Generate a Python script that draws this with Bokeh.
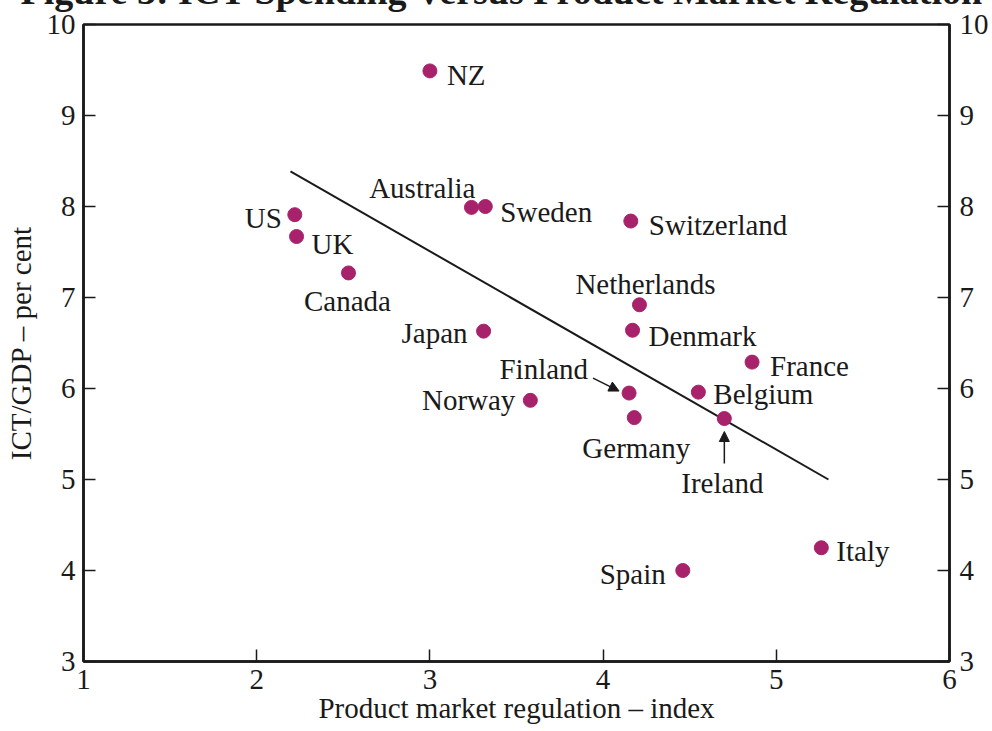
import math
from bokeh.plotting import figure
from bokeh.models import Range1d, FixedTicker, LinearAxis, Arrow, NormalHead, ColumnDataSource
from bokeh.core.properties import value
from bokeh.embed import file_html
from bokeh.resources import INLINE

# ---- data ----
countries = ["NZ", "Australia", "Sweden", "US", "UK", "Canada", "Switzerland",
             "Netherlands", "Denmark", "Japan", "France", "Finland", "Belgium",
             "Norway", "Germany", "Ireland", "Italy", "Spain"]
pmr_index = [3.00, 3.24, 3.32, 2.22, 2.23, 2.53, 4.16,
             4.21, 4.17, 3.31, 4.86, 4.15, 4.55,
             3.58, 4.18, 4.70, 5.26, 4.46]
ict_gdp = [9.49, 7.99, 8.00, 7.91, 7.67, 7.27, 7.84,
           6.92, 6.64, 6.63, 6.29, 5.95, 5.96,
           5.87, 5.68, 5.67, 4.25, 4.00]
trend_x = [2.195, 5.301]
trend_y = [8.385, 5.00]
x_ticks = [1, 2, 3, 4, 5, 6]
y_ticks = [3, 4, 5, 6, 7, 8, 9, 10]

# ---- label placement (pixels relative to point) ----
label_dx = [17, 4, 15, -13, 15, -1, 18, 6, 16, -16, 18, -41, 15, -15, 2, -2, 15, -17]
label_dy = [4, -19, 5, 3, 7, 28, 4, -21, 6, 2, 4, -24, 2, 0, 30, 64, 3, 3]
label_align = ["left", "right", "left", "right", "left", "center", "left",
               "center", "left", "right", "left", "right", "left",
               "right", "center", "center", "left", "right"]

FONT = "Liberation Serif"
DOT = "#A8226B"
INK = "#1a1a1a"
W, H = 992, 731
BL, BR, BT, BB = 83, 43, 24, 70
FW, FH = W - BL - BR, H - BT - BB
PXX = FW / 5.0
PXY = FH / 7.0

p = figure(width=W, height=H, x_range=Range1d(1, 6), y_range=Range1d(3, 10),
           output_backend="svg", toolbar_location=None,
           min_border_left=BL, min_border_right=BR, min_border_top=BT, min_border_bottom=BB,
           x_axis_type=None, y_axis_type=None,
           title="Figure 3: ICT Spending Versus Product Market Regulation")
p.grid.visible = False
p.outline_line_color = INK
p.outline_line_width = 2.5
p.background_fill_color = "white"
p.border_fill_color = "white"

# figure title: mostly above the top edge, as in the reference
p.title.align = "left"
p.title.offset = -63
p.title.vertical_align = "top"
p.title.standoff = -110
p.title.text_font = FONT
p.title.text_font_size = "38px"
p.title.text_font_style = "bold"
p.title.text_color = INK


def style(ax, standoff):
    ax.axis_line_color = INK
    ax.axis_line_width = 2.5
    ax.major_tick_in = 12
    ax.major_tick_out = 0
    ax.major_tick_line_width = 1.5
    ax.major_tick_line_color = INK
    ax.minor_tick_line_color = None
    ax.major_label_text_font = FONT
    ax.major_label_text_font_size = "29px"
    ax.major_label_text_color = INK
    ax.major_label_standoff = standoff
    ax.axis_label_text_font = FONT
    ax.axis_label_text_font_size = "29px"
    ax.axis_label_text_font_style = "normal"
    ax.axis_label_text_color = INK


xb = LinearAxis(ticker=FixedTicker(ticks=x_ticks), axis_label="Product market regulation \u2013 index")
style(xb, 8)
xb.axis_label_standoff = 0
p.add_layout(xb, "below")
yl = LinearAxis(ticker=FixedTicker(ticks=y_ticks), axis_label="ICT/GDP \u2013 per cent")
style(yl, 8)
yl.axis_label_standoff = 7
p.add_layout(yl, "left")
yr = LinearAxis(ticker=FixedTicker(ticks=y_ticks))
style(yr, 10)
p.add_layout(yr, "right")

# trend line
p.line(trend_x, trend_y, line_color=INK, line_width=2)

src = ColumnDataSource(dict(x=pmr_index, y=ict_gdp, name=countries,
                            dx=label_dx, dy=label_dy, align=label_align))
p.scatter("x", "y", source=src, size=14, fill_color=DOT, line_color=DOT)
p.text("x", "y", text="name", source=src, x_offset="dx", y_offset="dy",
       text_align="align", text_baseline="middle",
       text_font=value(FONT), text_font_size=value("29px"), text_color=INK)

# arrows (Finland, Ireland)
fi = countries.index("Finland")
ie = countries.index("Ireland")
arrow_specs = [(fi, -36, -15, -10, -2), (ie, 0, 45, 0, 13)]
for idx, sx0, sy0, sx1, sy1 in arrow_specs:
    x0 = pmr_index[idx]
    y0 = ict_gdp[idx]
    p.add_layout(Arrow(end=NormalHead(size=10, fill_color=INK, line_color=INK, line_width=1),
                       x_start=x0 + sx0 / PXX, y_start=y0 - sy0 / PXY,
                       x_end=x0 + sx1 / PXX, y_end=y0 - sy1 / PXY,
                       line_color=INK, line_width=1.5))

open("out.html", "w").write(file_html(p, INLINE))
